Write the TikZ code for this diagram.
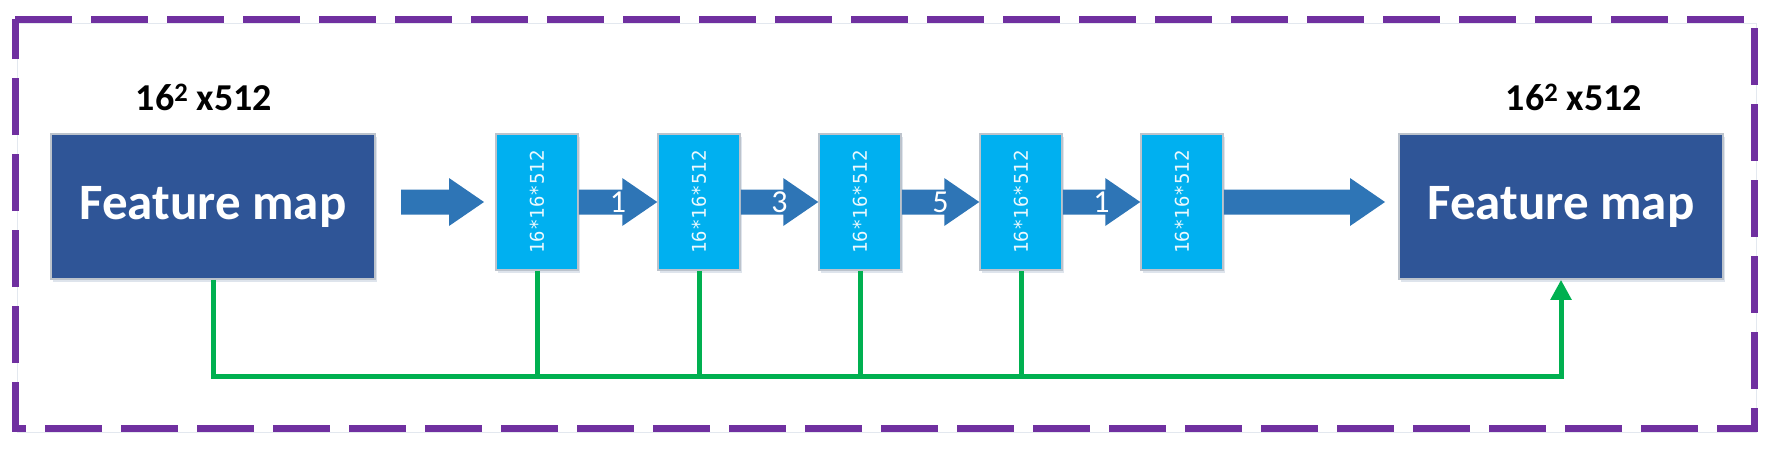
\documentclass[tikz,border=0pt]{standalone}
\usepackage{fontspec}
\usepackage{graphicx}
\setmainfont{Carlito}
\newfontfamily\monof{DejaVu Sans Mono}
\usetikzlibrary{shadows,calc,arrows.meta}
\definecolor{fmblue}{HTML}{2F5597}
\definecolor{cyanbox}{HTML}{00B0F0}
\definecolor{arrowblue}{HTML}{2E75B6}
\definecolor{skipgreen}{HTML}{00B050}
\definecolor{borderpurple}{HTML}{7030A0}
\definecolor{edgegrey}{HTML}{BCC3CC}
\definecolor{shadowcol}{HTML}{C8D2E0}
\newcommand{\blockarr}[2]{%
  \fill[arrowblue] let \p1=(#1), \p2=(#2) in
    (\x1,\y1-12.5) -- (\x2-35,\y1-12.5) -- (\x2-35,\y1-24) -- (\x2,\y1)
    -- (\x2-35,\y1+24) -- (\x2-35,\y1+12.5) -- (\x1,\y1+12.5) -- cycle;}
\begin{document}
\begin{tikzpicture}[x=1pt,y=-1pt,
  myshadow/.style={drop shadow={shadow xshift=2pt,shadow yshift=-3pt,fill=shadowcol,opacity=0.6}},
  fmbox/.style={fill=fmblue,draw=edgegrey,line width=1.5pt,minimum width=324pt,minimum height=145pt,
    inner sep=0pt,text=white,font=\bfseries\fontsize{51}{51}\selectfont,myshadow},
  sbox/.style={fill=cyanbox,draw=edgegrey,line width=1.5pt,minimum width=82pt,minimum height=136pt,
    inner sep=0pt,text=white!92!cyanbox,font=\monof\fontsize{19}{19}\selectfont,myshadow},
  dimlab/.style={font=\bfseries\fontsize{38}{38}\selectfont,text=black,inner sep=0pt},
  numlab/.style={font=\fontsize{32}{32}\selectfont,text=white,inner sep=0pt},
  skip/.style={draw=skipgreen,line width=5pt},
  frame/.style={draw=borderpurple,line width=7pt,dash pattern=on 57pt off 19pt}
]
\useasboundingbox (0,0) rectangle (1776,448);
% frame
\draw[frame,drop shadow={shadow xshift=2pt,shadow yshift=-4pt,opacity=0.5,draw=shadowcol,fill=none}]
  (15,19) -- (1754,19) -- (1754,428) -- (15,428) -- cycle;
% feature maps
\node[fmbox] (fm1) at (213,206.5) {\raisebox{-4pt}{Feature map}};
\node[fmbox] (fm2) at (1561,206.5) {\raisebox{-4pt}{Feature map}};
\node[dimlab] (l1) at (204,97) {16\textsuperscript{2} x512};
\node[dimlab] (l2) at (1574,97) {16\textsuperscript{2} x512};
% small boxes
\foreach \i/\x in {1/537,2/699,3/860,4/1021,5/1182}{
  \node[sbox] (b\i) at (\x,202) {\rotatebox{90}{16*16*512}};
}
% block arrows
\coordinate (a0s) at (401,202);
\coordinate (a0t) at (484,202);
\blockarr{a0s}{a0t}
\blockarr{b1.east}{b2.west}
\blockarr{b2.east}{b3.west}
\blockarr{b3.east}{b4.west}
\blockarr{b4.east}{b5.west}
\coordinate (a5t) at (1385,202);
\blockarr{b5.east}{a5t}
\node[numlab] (n1) at ($(b1.east)!0.5!(b2.west)$) {1};
\node[numlab] (n2) at ($(b2.east)!0.5!(b3.west)$) {3};
\node[numlab] (n3) at ($(b3.east)!0.5!(b4.west)$) {5};
\node[numlab] (n4) at ($(b4.east)!0.5!(b5.west)$) {1};
% skip connections
\coordinate (bus) at (0,376);
\foreach \i in {1,2,3,4}{
  \draw[skip] (b\i.south) -- (b\i.south |- bus);
}
\draw[skip,-{Triangle[width=20pt,length=20pt]}] (fm1.south) |- (bus -| fm2.south) -- (fm2.south);
\end{tikzpicture}
\end{document}
